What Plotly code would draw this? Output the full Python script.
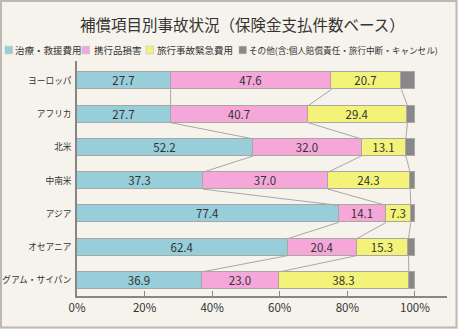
import plotly.graph_objects as go

categories = ["ヨーロッパ", "アフリカ", "北米", "中南米", "アジア", "オセアニア", "グアム・サイパン"]
medical = [27.7, 27.7, 52.2, 37.3, 77.4, 62.4, 36.9]
baggage = [47.6, 40.7, 32.0, 37.0, 14.1, 20.4, 23.0]
emergency = [20.7, 29.4, 13.1, 24.3, 7.3, 15.3, 38.3]
other = [round(100 - a - b - c, 1) for a, b, c in zip(medical, baggage, emergency)]

series_names = ["治療・救援費用", "携行品損害", "旅行事故緊急費用", "その他(含:個人賠償責任・旅行中断・キャンセル)"]
series_values = [medical, baggage, emergency, other]
series_colors = ["#98ceda", "#f4a7d8", "#f2f378", "#888888"]
x_tick_values = [0, 20, 40, 60, 80, 100]

W, H = 458, 329
L, R, T, B = 77, 11, 61, 33
PW, PH = W - L - R, H - T - B

def px(x):
    return (x - L) / PW

def py(y):
    return 1 - (y - T) / PH

ypos = list(range(len(categories)))
bar_w = 0.51

fig = go.Figure()
for i, (name, vals, col) in enumerate(zip(series_names, series_values, series_colors)):
    show_text = i < 3
    fig.add_trace(go.Bar(
        y=ypos, x=vals, orientation="h", name=name,
        marker=dict(color=col, line=dict(color="#aaa6a2", width=1)),
        width=bar_w,
        text=[f"{v:.1f}" for v in vals] if show_text else None,
        textposition="inside" if show_text else "none",
        insidetextanchor="middle",
        textangle=0,
        textfont=dict(family="Noto Sans CJK JP", size=11.5, color="#333333"),
        showlegend=False,
        hoverinfo="skip",
    ))

# connector lines between consecutive bars at the segment boundaries
cx, cy = [], []
for r in range(len(categories) - 1):
    cum_a, cum_b = 0, 0
    for s in range(3):
        cum_a += series_values[s][r]
        cum_b += series_values[s][r + 1]
        cx += [cum_a, cum_b, None]
        cy += [r + bar_w / 2, r + 1 - bar_w / 2, None]
fig.add_trace(go.Scatter(x=cx, y=cy, mode="lines", line=dict(color="#aaa6a2", width=1),
                         showlegend=False, hoverinfo="skip"))

shapes = [dict(type="rect", xref="paper", yref="paper",
               x0=px(1), x1=px(456.5), y0=py(327.5), y1=py(1),
               line=dict(color="#bdb8b3", width=2), fillcolor="rgba(0,0,0,0)", layer="below")]

annotations = [dict(text="補償項目別事故状況（保険金支払件数ベース）", xref="paper", yref="paper",
                    x=px(242), y=py(24.5), xanchor="center", yanchor="middle", showarrow=False,
                    font=dict(family="Noto Sans CJK JP", size=15.5, color="#333333"))]

legend_sq_x = [5, 82, 146, 239]
legend_tx_x = [13, 92, 155, 247]
legend_sizes = [9.5, 9.5, 9.5, 8.6]
leg_y = 50
for name, col, sx, tx, fs in zip(series_names, series_colors, legend_sq_x, legend_tx_x, legend_sizes):
    shapes.append(dict(type="rect", xref="paper", yref="paper",
                       x0=px(sx), x1=px(sx + 7.5), y0=py(leg_y + 3.8), y1=py(leg_y - 3.8),
                       fillcolor=col, line=dict(color="#bbbbbb", width=0.5)))
    annotations.append(dict(text=name, xref="paper", yref="paper", x=px(tx), y=py(leg_y),
                            xanchor="left", yanchor="middle", showarrow=False,
                            font=dict(family="Noto Sans CJK JP", size=fs, color="#333333")))

fig.update_layout(
    width=W, height=H,
    margin=dict(l=L, r=R, t=T, b=B, pad=0, autoexpand=False),
    paper_bgcolor="#f6f3ec", plot_bgcolor="#f6f3ec",
    barmode="stack", bargap=0,
    uniformtext=dict(minsize=11.5, mode="show"),
    shapes=shapes, annotations=annotations,
    showlegend=False,
    font=dict(family="Noto Sans CJK JP", color="#333333"),
    xaxis=dict(range=[0, 109.5], tickvals=x_tick_values, ticktext=[f"{v}%" for v in x_tick_values],
               ticks="inside", ticklen=5, tickcolor="#8a8582", tickwidth=1, automargin=False,
               showline=True, linecolor="#8a8582", linewidth=1.5, showgrid=False, zeroline=False,
               tickfont=dict(family="Noto Sans CJK JP", size=11.5, color="#333333"), fixedrange=True),
    yaxis=dict(range=[6.47, -0.6], tickvals=ypos, ticktext=categories, ticks="", automargin=False,
               ticklabelstandoff=2,
               showline=True, linecolor="#8a8582", linewidth=1.5, showgrid=False, zeroline=False,
               tickfont=dict(family="Noto Sans CJK JP", size=8.7, color="#333333"), fixedrange=True),
)

fig.write_html("out.html")
